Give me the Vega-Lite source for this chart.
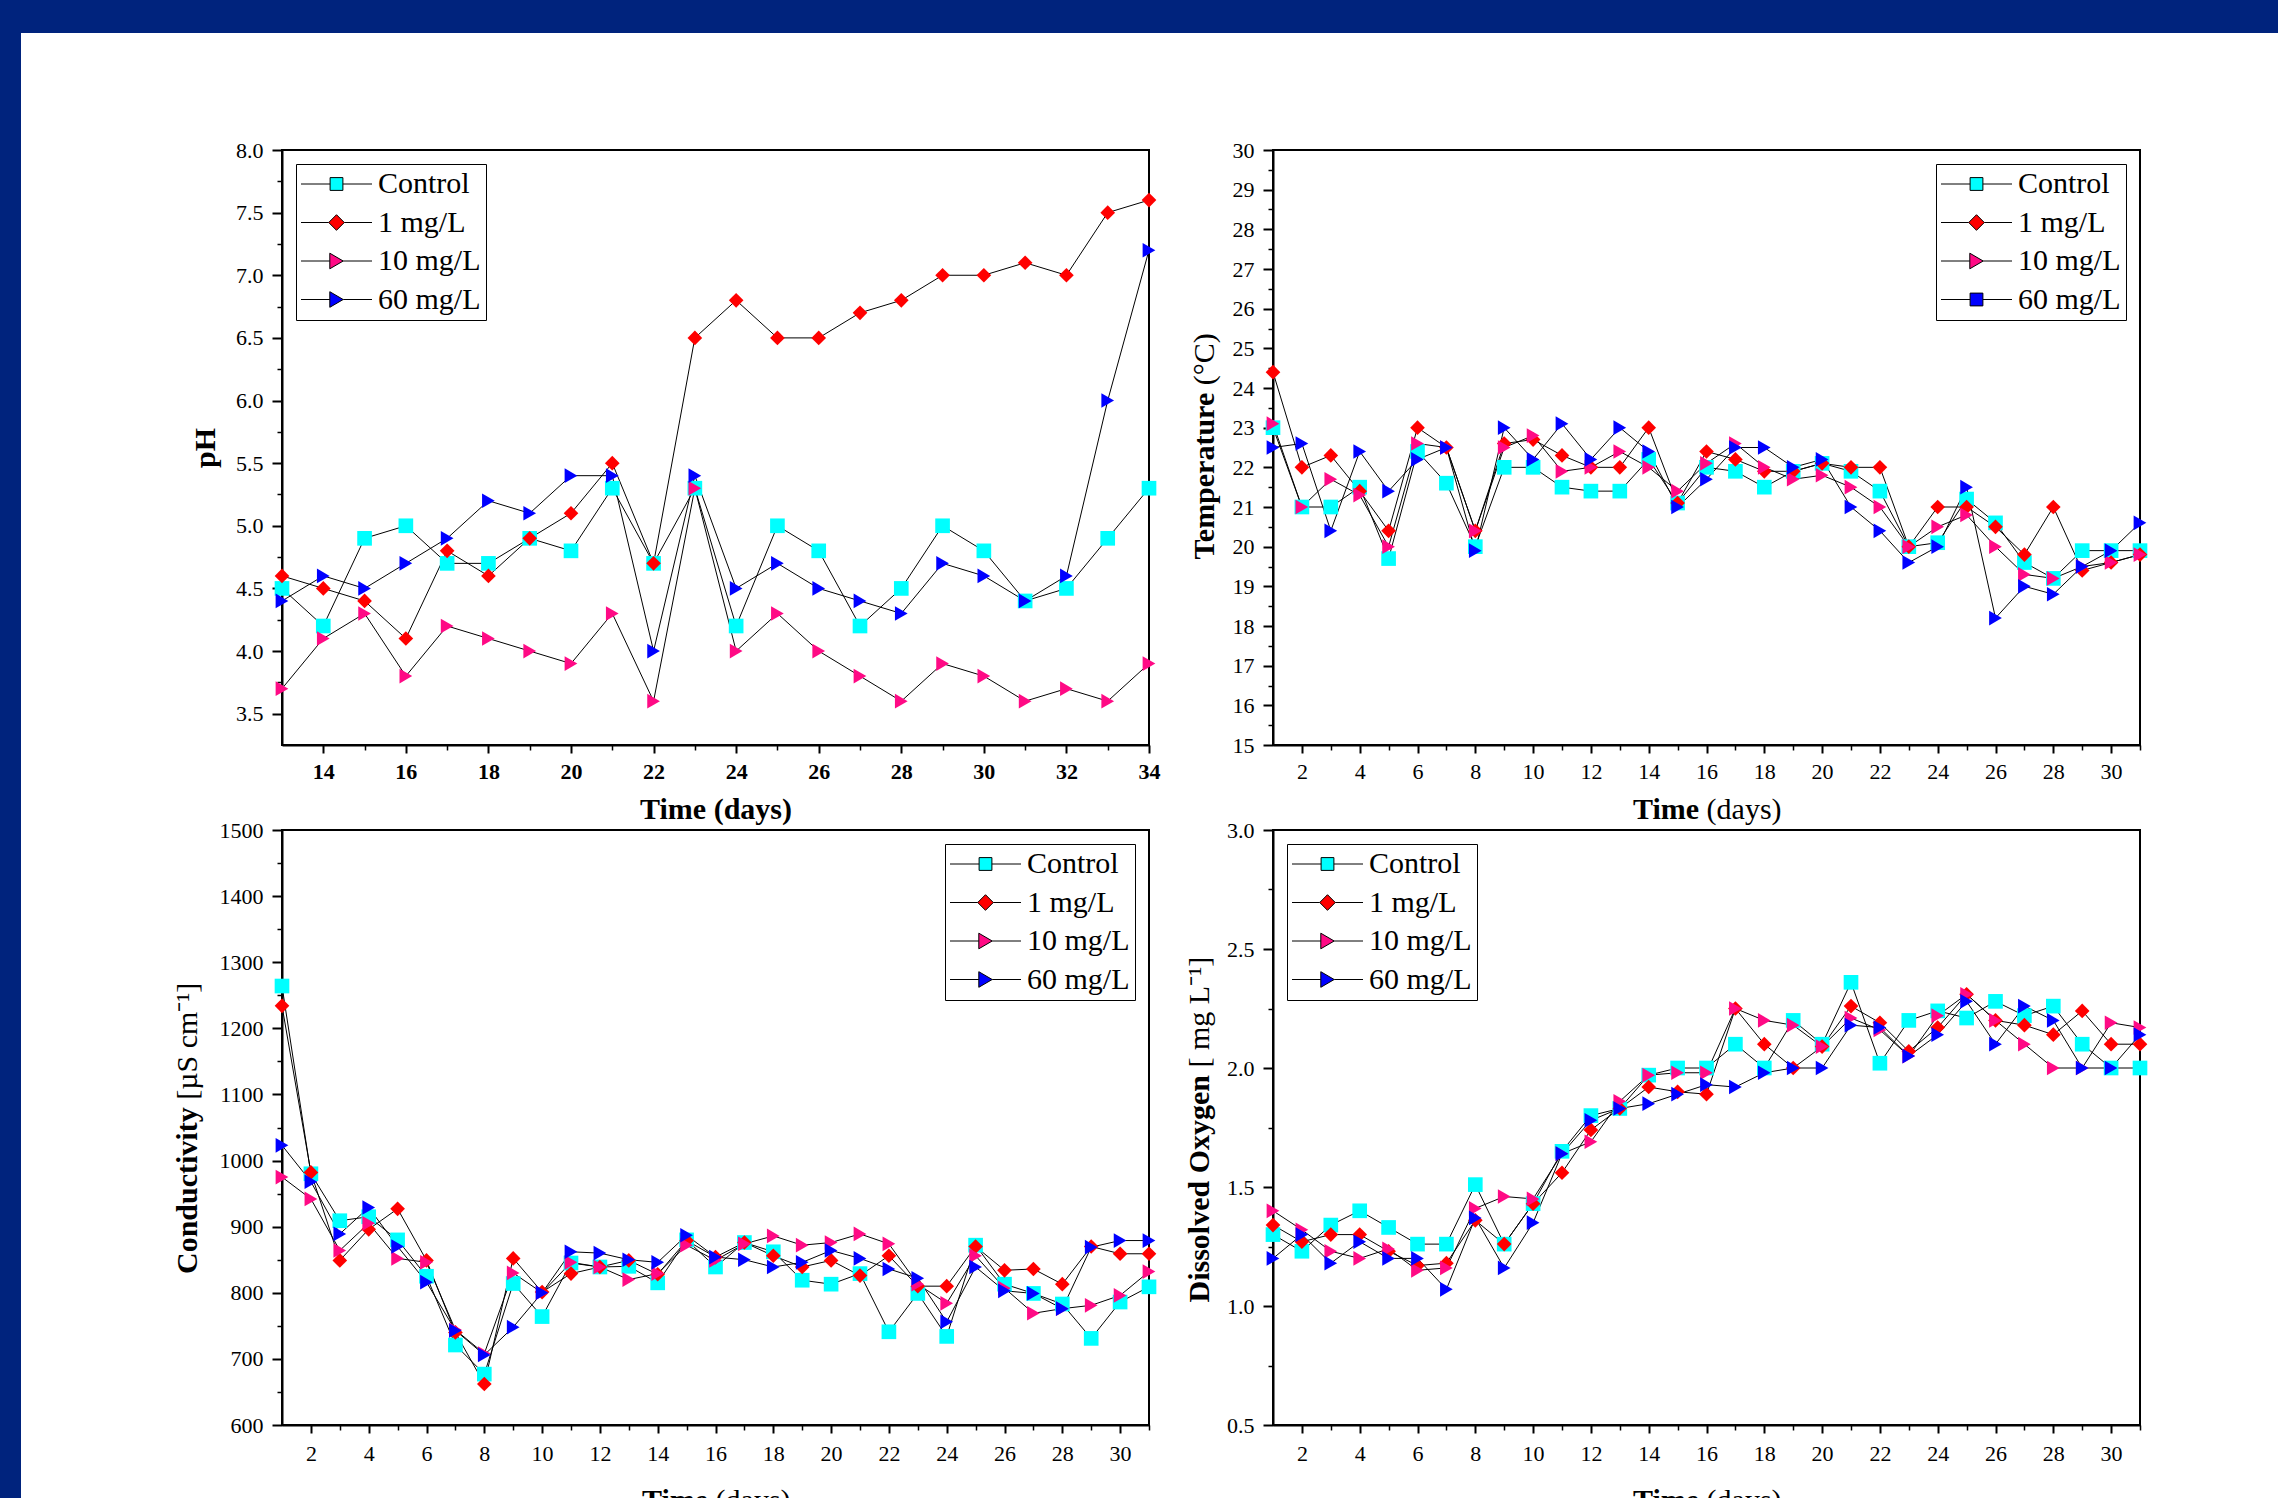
{
"$schema": "https://vega.github.io/schema/vega-lite/v6.json",
"background": "white",
"padding": 0,
"spacing": 0,
"config": {
  "axis": {"labelFont": "Liberation Serif", "labelFontSize": 22, "labelColor": "black", "tickColor": "black", "domainColor": "black", "domainWidth": 2, "tickWidth": 2, "titleFont": "Liberation Serif", "titleFontSize": 30, "titleColor": "black", "grid": false, "labelFlush": false, "labelOverlap": false, "labelBound": false},
  "legend": {"labelFont": "Liberation Serif", "labelFontSize": 30, "labelColor": "black", "title": null, "offset": 14, "padding": 5, "strokeColor": "black", "fillColor": "white", "symbolSize": 400, "symbolOffset": 20.5, "labelOffset": 26.5, "rowPadding": 8.5, "symbolStrokeColor": "black", "symbolStrokeWidth": 1, "symbolOpacity": 1}
},
"datasets": {
"ph": [
{"day":13,"series":"Control","value":4.5},{"day":14,"series":"Control","value":4.2},{"day":15,"series":"Control","value":4.9},{"day":16,"series":"Control","value":5.0},{"day":17,"series":"Control","value":4.7},{"day":18,"series":"Control","value":4.7},{"day":19,"series":"Control","value":4.9},{"day":20,"series":"Control","value":4.8},{"day":21,"series":"Control","value":5.3},{"day":22,"series":"Control","value":4.7},{"day":23,"series":"Control","value":5.3},{"day":24,"series":"Control","value":4.2},{"day":25,"series":"Control","value":5.0},{"day":26,"series":"Control","value":4.8},{"day":27,"series":"Control","value":4.2},{"day":28,"series":"Control","value":4.5},{"day":29,"series":"Control","value":5.0},{"day":30,"series":"Control","value":4.8},{"day":31,"series":"Control","value":4.4},{"day":32,"series":"Control","value":4.5},{"day":33,"series":"Control","value":4.9},{"day":34,"series":"Control","value":5.3},
{"day":13,"series":"1 mg/L","value":4.6},{"day":14,"series":"1 mg/L","value":4.5},{"day":15,"series":"1 mg/L","value":4.4},{"day":16,"series":"1 mg/L","value":4.1},{"day":17,"series":"1 mg/L","value":4.8},{"day":18,"series":"1 mg/L","value":4.6},{"day":19,"series":"1 mg/L","value":4.9},{"day":20,"series":"1 mg/L","value":5.1},{"day":21,"series":"1 mg/L","value":5.5},{"day":22,"series":"1 mg/L","value":4.7},{"day":23,"series":"1 mg/L","value":6.5},{"day":24,"series":"1 mg/L","value":6.8},{"day":25,"series":"1 mg/L","value":6.5},{"day":26,"series":"1 mg/L","value":6.5},{"day":27,"series":"1 mg/L","value":6.7},{"day":28,"series":"1 mg/L","value":6.8},{"day":29,"series":"1 mg/L","value":7.0},{"day":30,"series":"1 mg/L","value":7.0},{"day":31,"series":"1 mg/L","value":7.1},{"day":32,"series":"1 mg/L","value":7.0},{"day":33,"series":"1 mg/L","value":7.5},{"day":34,"series":"1 mg/L","value":7.6},
{"day":13,"series":"10 mg/L","value":3.7},{"day":14,"series":"10 mg/L","value":4.1},{"day":15,"series":"10 mg/L","value":4.3},{"day":16,"series":"10 mg/L","value":3.8},{"day":17,"series":"10 mg/L","value":4.2},{"day":18,"series":"10 mg/L","value":4.1},{"day":19,"series":"10 mg/L","value":4.0},{"day":20,"series":"10 mg/L","value":3.9},{"day":21,"series":"10 mg/L","value":4.3},{"day":22,"series":"10 mg/L","value":3.6},{"day":23,"series":"10 mg/L","value":5.3},{"day":24,"series":"10 mg/L","value":4.0},{"day":25,"series":"10 mg/L","value":4.3},{"day":26,"series":"10 mg/L","value":4.0},{"day":27,"series":"10 mg/L","value":3.8},{"day":28,"series":"10 mg/L","value":3.6},{"day":29,"series":"10 mg/L","value":3.9},{"day":30,"series":"10 mg/L","value":3.8},{"day":31,"series":"10 mg/L","value":3.6},{"day":32,"series":"10 mg/L","value":3.7},{"day":33,"series":"10 mg/L","value":3.6},{"day":34,"series":"10 mg/L","value":3.9},
{"day":13,"series":"60 mg/L","value":4.4},{"day":14,"series":"60 mg/L","value":4.6},{"day":15,"series":"60 mg/L","value":4.5},{"day":16,"series":"60 mg/L","value":4.7},{"day":17,"series":"60 mg/L","value":4.9},{"day":18,"series":"60 mg/L","value":5.2},{"day":19,"series":"60 mg/L","value":5.1},{"day":20,"series":"60 mg/L","value":5.4},{"day":21,"series":"60 mg/L","value":5.4},{"day":22,"series":"60 mg/L","value":4.0},{"day":23,"series":"60 mg/L","value":5.4},{"day":24,"series":"60 mg/L","value":4.5},{"day":25,"series":"60 mg/L","value":4.7},{"day":26,"series":"60 mg/L","value":4.5},{"day":27,"series":"60 mg/L","value":4.4},{"day":28,"series":"60 mg/L","value":4.3},{"day":29,"series":"60 mg/L","value":4.7},{"day":30,"series":"60 mg/L","value":4.6},{"day":31,"series":"60 mg/L","value":4.4},{"day":32,"series":"60 mg/L","value":4.6},{"day":33,"series":"60 mg/L","value":6.0},{"day":34,"series":"60 mg/L","value":7.2}
],
"temp": [
{"day":1,"series":"Control","value":23.0},{"day":2,"series":"Control","value":21.0},{"day":3,"series":"Control","value":21.0},{"day":4,"series":"Control","value":21.5},{"day":5,"series":"Control","value":19.7},{"day":6,"series":"Control","value":22.4},{"day":7,"series":"Control","value":21.6},{"day":8,"series":"Control","value":20.0},{"day":9,"series":"Control","value":22.0},{"day":10,"series":"Control","value":22.0},{"day":11,"series":"Control","value":21.5},{"day":12,"series":"Control","value":21.4},{"day":13,"series":"Control","value":21.4},{"day":14,"series":"Control","value":22.2},{"day":15,"series":"Control","value":21.1},{"day":16,"series":"Control","value":22.0},{"day":17,"series":"Control","value":21.9},{"day":18,"series":"Control","value":21.5},{"day":19,"series":"Control","value":21.9},{"day":20,"series":"Control","value":22.1},{"day":21,"series":"Control","value":21.9},{"day":22,"series":"Control","value":21.4},{"day":23,"series":"Control","value":20.0},{"day":24,"series":"Control","value":20.1},{"day":25,"series":"Control","value":21.2},{"day":26,"series":"Control","value":20.6},{"day":27,"series":"Control","value":19.6},{"day":28,"series":"Control","value":19.2},{"day":29,"series":"Control","value":19.9},{"day":30,"series":"Control","value":19.9},{"day":31,"series":"Control","value":19.9},
{"day":1,"series":"1 mg/L","value":24.4},{"day":2,"series":"1 mg/L","value":22.0},{"day":3,"series":"1 mg/L","value":22.3},{"day":4,"series":"1 mg/L","value":21.4},{"day":5,"series":"1 mg/L","value":20.4},{"day":6,"series":"1 mg/L","value":23.0},{"day":7,"series":"1 mg/L","value":22.5},{"day":8,"series":"1 mg/L","value":20.4},{"day":9,"series":"1 mg/L","value":22.6},{"day":10,"series":"1 mg/L","value":22.7},{"day":11,"series":"1 mg/L","value":22.3},{"day":12,"series":"1 mg/L","value":22.0},{"day":13,"series":"1 mg/L","value":22.0},{"day":14,"series":"1 mg/L","value":23.0},{"day":15,"series":"1 mg/L","value":21.1},{"day":16,"series":"1 mg/L","value":22.4},{"day":17,"series":"1 mg/L","value":22.2},{"day":18,"series":"1 mg/L","value":21.9},{"day":19,"series":"1 mg/L","value":21.9},{"day":20,"series":"1 mg/L","value":22.1},{"day":21,"series":"1 mg/L","value":22.0},{"day":22,"series":"1 mg/L","value":22.0},{"day":23,"series":"1 mg/L","value":20.0},{"day":24,"series":"1 mg/L","value":21.0},{"day":25,"series":"1 mg/L","value":21.0},{"day":26,"series":"1 mg/L","value":20.5},{"day":27,"series":"1 mg/L","value":19.8},{"day":28,"series":"1 mg/L","value":21.0},{"day":29,"series":"1 mg/L","value":19.4},{"day":30,"series":"1 mg/L","value":19.6},{"day":31,"series":"1 mg/L","value":19.8},
{"day":1,"series":"10 mg/L","value":23.1},{"day":2,"series":"10 mg/L","value":21.0},{"day":3,"series":"10 mg/L","value":21.7},{"day":4,"series":"10 mg/L","value":21.3},{"day":5,"series":"10 mg/L","value":20.0},{"day":6,"series":"10 mg/L","value":22.6},{"day":7,"series":"10 mg/L","value":22.5},{"day":8,"series":"10 mg/L","value":20.4},{"day":9,"series":"10 mg/L","value":22.5},{"day":10,"series":"10 mg/L","value":22.8},{"day":11,"series":"10 mg/L","value":21.9},{"day":12,"series":"10 mg/L","value":22.0},{"day":13,"series":"10 mg/L","value":22.4},{"day":14,"series":"10 mg/L","value":22.0},{"day":15,"series":"10 mg/L","value":21.4},{"day":16,"series":"10 mg/L","value":22.1},{"day":17,"series":"10 mg/L","value":22.6},{"day":18,"series":"10 mg/L","value":22.0},{"day":19,"series":"10 mg/L","value":21.7},{"day":20,"series":"10 mg/L","value":21.8},{"day":21,"series":"10 mg/L","value":21.5},{"day":22,"series":"10 mg/L","value":21.0},{"day":23,"series":"10 mg/L","value":20.0},{"day":24,"series":"10 mg/L","value":20.5},{"day":25,"series":"10 mg/L","value":20.8},{"day":26,"series":"10 mg/L","value":20.0},{"day":27,"series":"10 mg/L","value":19.3},{"day":28,"series":"10 mg/L","value":19.2},{"day":29,"series":"10 mg/L","value":19.5},{"day":30,"series":"10 mg/L","value":19.6},{"day":31,"series":"10 mg/L","value":19.8},
{"day":1,"series":"60 mg/L","value":22.5},{"day":2,"series":"60 mg/L","value":22.6},{"day":3,"series":"60 mg/L","value":20.4},{"day":4,"series":"60 mg/L","value":22.4},{"day":5,"series":"60 mg/L","value":21.4},{"day":6,"series":"60 mg/L","value":22.2},{"day":7,"series":"60 mg/L","value":22.5},{"day":8,"series":"60 mg/L","value":19.9},{"day":9,"series":"60 mg/L","value":23.0},{"day":10,"series":"60 mg/L","value":22.2},{"day":11,"series":"60 mg/L","value":23.1},{"day":12,"series":"60 mg/L","value":22.2},{"day":13,"series":"60 mg/L","value":23.0},{"day":14,"series":"60 mg/L","value":22.4},{"day":15,"series":"60 mg/L","value":21.0},{"day":16,"series":"60 mg/L","value":21.7},{"day":17,"series":"60 mg/L","value":22.5},{"day":18,"series":"60 mg/L","value":22.5},{"day":19,"series":"60 mg/L","value":22.0},{"day":20,"series":"60 mg/L","value":22.2},{"day":21,"series":"60 mg/L","value":21.0},{"day":22,"series":"60 mg/L","value":20.4},{"day":23,"series":"60 mg/L","value":19.6},{"day":24,"series":"60 mg/L","value":20.0},{"day":25,"series":"60 mg/L","value":21.5},{"day":26,"series":"60 mg/L","value":18.2},{"day":27,"series":"60 mg/L","value":19.0},{"day":28,"series":"60 mg/L","value":18.8},{"day":29,"series":"60 mg/L","value":19.5},{"day":30,"series":"60 mg/L","value":19.9},{"day":31,"series":"60 mg/L","value":20.6}
],
"cond": [
{"day":1,"series":"Control","value":1264},{"day":2,"series":"Control","value":980},{"day":3,"series":"Control","value":909},{"day":4,"series":"Control","value":915},{"day":5,"series":"Control","value":880},{"day":6,"series":"Control","value":825},{"day":7,"series":"Control","value":721},{"day":8,"series":"Control","value":677},{"day":9,"series":"Control","value":814},{"day":10,"series":"Control","value":764},{"day":11,"series":"Control","value":845},{"day":12,"series":"Control","value":839},{"day":13,"series":"Control","value":840},{"day":14,"series":"Control","value":815},{"day":15,"series":"Control","value":880},{"day":16,"series":"Control","value":839},{"day":17,"series":"Control","value":876},{"day":18,"series":"Control","value":862},{"day":19,"series":"Control","value":819},{"day":20,"series":"Control","value":813},{"day":21,"series":"Control","value":829},{"day":22,"series":"Control","value":741},{"day":23,"series":"Control","value":799},{"day":24,"series":"Control","value":734},{"day":25,"series":"Control","value":872},{"day":26,"series":"Control","value":813},{"day":27,"series":"Control","value":799},{"day":28,"series":"Control","value":783},{"day":29,"series":"Control","value":731},{"day":30,"series":"Control","value":786},{"day":31,"series":"Control","value":809},
{"day":1,"series":"1 mg/L","value":1234},{"day":2,"series":"1 mg/L","value":982},{"day":3,"series":"1 mg/L","value":849},{"day":4,"series":"1 mg/L","value":896},{"day":5,"series":"1 mg/L","value":927},{"day":6,"series":"1 mg/L","value":849},{"day":7,"series":"1 mg/L","value":740},{"day":8,"series":"1 mg/L","value":662},{"day":9,"series":"1 mg/L","value":852},{"day":10,"series":"1 mg/L","value":801},{"day":11,"series":"1 mg/L","value":829},{"day":12,"series":"1 mg/L","value":839},{"day":13,"series":"1 mg/L","value":849},{"day":14,"series":"1 mg/L","value":828},{"day":15,"series":"1 mg/L","value":879},{"day":16,"series":"1 mg/L","value":854},{"day":17,"series":"1 mg/L","value":876},{"day":18,"series":"1 mg/L","value":856},{"day":19,"series":"1 mg/L","value":839},{"day":20,"series":"1 mg/L","value":849},{"day":21,"series":"1 mg/L","value":826},{"day":22,"series":"1 mg/L","value":856},{"day":23,"series":"1 mg/L","value":810},{"day":24,"series":"1 mg/L","value":810},{"day":25,"series":"1 mg/L","value":870},{"day":26,"series":"1 mg/L","value":834},{"day":27,"series":"1 mg/L","value":836},{"day":28,"series":"1 mg/L","value":813},{"day":29,"series":"1 mg/L","value":870},{"day":30,"series":"1 mg/L","value":859},{"day":31,"series":"1 mg/L","value":859},
{"day":1,"series":"10 mg/L","value":975},{"day":2,"series":"10 mg/L","value":942},{"day":3,"series":"10 mg/L","value":864},{"day":4,"series":"10 mg/L","value":905},{"day":5,"series":"10 mg/L","value":852},{"day":6,"series":"10 mg/L","value":846},{"day":7,"series":"10 mg/L","value":744},{"day":8,"series":"10 mg/L","value":708},{"day":9,"series":"10 mg/L","value":830},{"day":10,"series":"10 mg/L","value":800},{"day":11,"series":"10 mg/L","value":846},{"day":12,"series":"10 mg/L","value":839},{"day":13,"series":"10 mg/L","value":820},{"day":14,"series":"10 mg/L","value":829},{"day":15,"series":"10 mg/L","value":872},{"day":16,"series":"10 mg/L","value":849},{"day":17,"series":"10 mg/L","value":874},{"day":18,"series":"10 mg/L","value":886},{"day":19,"series":"10 mg/L","value":872},{"day":20,"series":"10 mg/L","value":876},{"day":21,"series":"10 mg/L","value":889},{"day":22,"series":"10 mg/L","value":874},{"day":23,"series":"10 mg/L","value":813},{"day":24,"series":"10 mg/L","value":784},{"day":25,"series":"10 mg/L","value":856},{"day":26,"series":"10 mg/L","value":807},{"day":27,"series":"10 mg/L","value":769},{"day":28,"series":"10 mg/L","value":776},{"day":29,"series":"10 mg/L","value":781},{"day":30,"series":"10 mg/L","value":796},{"day":31,"series":"10 mg/L","value":832},
{"day":1,"series":"60 mg/L","value":1023},{"day":2,"series":"60 mg/L","value":968},{"day":3,"series":"60 mg/L","value":889},{"day":4,"series":"60 mg/L","value":929},{"day":5,"series":"60 mg/L","value":870},{"day":6,"series":"60 mg/L","value":816},{"day":7,"series":"60 mg/L","value":743},{"day":8,"series":"60 mg/L","value":706},{"day":9,"series":"60 mg/L","value":748},{"day":10,"series":"60 mg/L","value":800},{"day":11,"series":"60 mg/L","value":862},{"day":12,"series":"60 mg/L","value":860},{"day":13,"series":"60 mg/L","value":850},{"day":14,"series":"60 mg/L","value":846},{"day":15,"series":"60 mg/L","value":887},{"day":16,"series":"60 mg/L","value":854},{"day":17,"series":"60 mg/L","value":850},{"day":18,"series":"60 mg/L","value":839},{"day":19,"series":"60 mg/L","value":846},{"day":20,"series":"60 mg/L","value":864},{"day":21,"series":"60 mg/L","value":852},{"day":22,"series":"60 mg/L","value":836},{"day":23,"series":"60 mg/L","value":822},{"day":24,"series":"60 mg/L","value":756},{"day":25,"series":"60 mg/L","value":839},{"day":26,"series":"60 mg/L","value":803},{"day":27,"series":"60 mg/L","value":799},{"day":28,"series":"60 mg/L","value":776},{"day":29,"series":"60 mg/L","value":869},{"day":30,"series":"60 mg/L","value":879},{"day":31,"series":"60 mg/L","value":879}
],
"do": [
{"day":1,"series":"Control","value":1.30},{"day":2,"series":"Control","value":1.23},{"day":3,"series":"Control","value":1.34},{"day":4,"series":"Control","value":1.40},{"day":5,"series":"Control","value":1.33},{"day":6,"series":"Control","value":1.26},{"day":7,"series":"Control","value":1.26},{"day":8,"series":"Control","value":1.51},{"day":9,"series":"Control","value":1.26},{"day":10,"series":"Control","value":1.43},{"day":11,"series":"Control","value":1.65},{"day":12,"series":"Control","value":1.80},{"day":13,"series":"Control","value":1.83},{"day":14,"series":"Control","value":1.97},{"day":15,"series":"Control","value":2.00},{"day":16,"series":"Control","value":2.00},{"day":17,"series":"Control","value":2.10},{"day":18,"series":"Control","value":2.00},{"day":19,"series":"Control","value":2.20},{"day":20,"series":"Control","value":2.10},{"day":21,"series":"Control","value":2.36},{"day":22,"series":"Control","value":2.02},{"day":23,"series":"Control","value":2.20},{"day":24,"series":"Control","value":2.24},{"day":25,"series":"Control","value":2.21},{"day":26,"series":"Control","value":2.28},{"day":27,"series":"Control","value":2.22},{"day":28,"series":"Control","value":2.26},{"day":29,"series":"Control","value":2.10},{"day":30,"series":"Control","value":2.00},{"day":31,"series":"Control","value":2.00},
{"day":1,"series":"1 mg/L","value":1.34},{"day":2,"series":"1 mg/L","value":1.27},{"day":3,"series":"1 mg/L","value":1.30},{"day":4,"series":"1 mg/L","value":1.30},{"day":5,"series":"1 mg/L","value":1.23},{"day":6,"series":"1 mg/L","value":1.17},{"day":7,"series":"1 mg/L","value":1.18},{"day":8,"series":"1 mg/L","value":1.36},{"day":9,"series":"1 mg/L","value":1.26},{"day":10,"series":"1 mg/L","value":1.43},{"day":11,"series":"1 mg/L","value":1.56},{"day":12,"series":"1 mg/L","value":1.74},{"day":13,"series":"1 mg/L","value":1.83},{"day":14,"series":"1 mg/L","value":1.92},{"day":15,"series":"1 mg/L","value":1.90},{"day":16,"series":"1 mg/L","value":1.89},{"day":17,"series":"1 mg/L","value":2.25},{"day":18,"series":"1 mg/L","value":2.10},{"day":19,"series":"1 mg/L","value":2.00},{"day":20,"series":"1 mg/L","value":2.09},{"day":21,"series":"1 mg/L","value":2.26},{"day":22,"series":"1 mg/L","value":2.19},{"day":23,"series":"1 mg/L","value":2.07},{"day":24,"series":"1 mg/L","value":2.17},{"day":25,"series":"1 mg/L","value":2.31},{"day":26,"series":"1 mg/L","value":2.20},{"day":27,"series":"1 mg/L","value":2.18},{"day":28,"series":"1 mg/L","value":2.14},{"day":29,"series":"1 mg/L","value":2.24},{"day":30,"series":"1 mg/L","value":2.10},{"day":31,"series":"1 mg/L","value":2.10},
{"day":1,"series":"10 mg/L","value":1.40},{"day":2,"series":"10 mg/L","value":1.32},{"day":3,"series":"10 mg/L","value":1.23},{"day":4,"series":"10 mg/L","value":1.20},{"day":5,"series":"10 mg/L","value":1.24},{"day":6,"series":"10 mg/L","value":1.15},{"day":7,"series":"10 mg/L","value":1.16},{"day":8,"series":"10 mg/L","value":1.41},{"day":9,"series":"10 mg/L","value":1.46},{"day":10,"series":"10 mg/L","value":1.45},{"day":11,"series":"10 mg/L","value":1.64},{"day":12,"series":"10 mg/L","value":1.69},{"day":13,"series":"10 mg/L","value":1.86},{"day":14,"series":"10 mg/L","value":1.97},{"day":15,"series":"10 mg/L","value":1.98},{"day":16,"series":"10 mg/L","value":1.98},{"day":17,"series":"10 mg/L","value":2.25},{"day":18,"series":"10 mg/L","value":2.20},{"day":19,"series":"10 mg/L","value":2.18},{"day":20,"series":"10 mg/L","value":2.09},{"day":21,"series":"10 mg/L","value":2.21},{"day":22,"series":"10 mg/L","value":2.16},{"day":23,"series":"10 mg/L","value":2.05},{"day":24,"series":"10 mg/L","value":2.22},{"day":25,"series":"10 mg/L","value":2.31},{"day":26,"series":"10 mg/L","value":2.20},{"day":27,"series":"10 mg/L","value":2.10},{"day":28,"series":"10 mg/L","value":2.00},{"day":29,"series":"10 mg/L","value":2.00},{"day":30,"series":"10 mg/L","value":2.19},{"day":31,"series":"10 mg/L","value":2.17},
{"day":1,"series":"60 mg/L","value":1.20},{"day":2,"series":"60 mg/L","value":1.30},{"day":3,"series":"60 mg/L","value":1.18},{"day":4,"series":"60 mg/L","value":1.27},{"day":5,"series":"60 mg/L","value":1.20},{"day":6,"series":"60 mg/L","value":1.20},{"day":7,"series":"60 mg/L","value":1.07},{"day":8,"series":"60 mg/L","value":1.37},{"day":9,"series":"60 mg/L","value":1.16},{"day":10,"series":"60 mg/L","value":1.35},{"day":11,"series":"60 mg/L","value":1.64},{"day":12,"series":"60 mg/L","value":1.78},{"day":13,"series":"60 mg/L","value":1.83},{"day":14,"series":"60 mg/L","value":1.85},{"day":15,"series":"60 mg/L","value":1.89},{"day":16,"series":"60 mg/L","value":1.93},{"day":17,"series":"60 mg/L","value":1.92},{"day":18,"series":"60 mg/L","value":1.98},{"day":19,"series":"60 mg/L","value":2.00},{"day":20,"series":"60 mg/L","value":2.00},{"day":21,"series":"60 mg/L","value":2.18},{"day":22,"series":"60 mg/L","value":2.17},{"day":23,"series":"60 mg/L","value":2.05},{"day":24,"series":"60 mg/L","value":2.14},{"day":25,"series":"60 mg/L","value":2.28},{"day":26,"series":"60 mg/L","value":2.10},{"day":27,"series":"60 mg/L","value":2.26},{"day":28,"series":"60 mg/L","value":2.20},{"day":29,"series":"60 mg/L","value":2.00},{"day":30,"series":"60 mg/L","value":2.00},{"day":31,"series":"60 mg/L","value":2.14}
]
},
"vconcat": [
 {"width": 2278, "height": 33, "data": {"values": []}, "mark": {"type": "point", "opacity": 0}, "encoding": {}, "view": {"fill": "#00237D", "stroke": null}},
 {"spacing": 150, "hconcat": [
  {"width": 21, "height": 1465, "data": {"values": []}, "mark": {"type": "point", "opacity": 0}, "encoding": {}, "view": {"fill": "#00237D", "stroke": null}},
  {"spacing": 104, "vconcat": [
   {"width": 1, "height": 1, "data": {"values": []}, "mark": {"type": "point", "opacity": 0}, "encoding": {}, "view": {"stroke": null}},
   {"columns": 2, "bounds": "flush", "spacing": {"row": 85, "column": 124}, "concat": [
    {"width": 867, "height": 595, "data": {"name": "ph"}, "view": {"stroke": "black", "strokeWidth": 2},
     "resolve": {"axis": {"x": "independent", "y": "independent"}},
     "layer": [
      {"mark": {"type": "line", "color": "black", "strokeWidth": 1},
       "encoding": {
        "x": {"field": "day", "type": "quantitative", "scale": {"domain": [13, 34], "nice": false, "zero": false},
              "axis": {"orient": "bottom", "values": [14,16,18,20,22,24,26,28,30,32,34], "tickSize": 8, "labelPadding": 8, "labelFontWeight": "bold", "title": "Time (days)", "titleFontWeight": "bold", "titleX": 433.5, "titleY": 49, "titleAlign": "center", "titleBaseline": "top"}},
        "y": {"field": "value", "type": "quantitative", "scale": {"domain": [3.25, 8], "nice": false, "zero": false},
              "axis": {"orient": "left", "values": [3.5,4,4.5,5,5.5,6,6.5,7,7.5,8], "format": ".1f", "tickSize": 10, "labelPadding": 9, "title": "pH", "titleFontWeight": "bold", "titleAngle": 270, "titleX": -77, "titleY": 297.5, "titleAlign": "center", "titleBaseline": "middle"}},
        "detail": {"field": "series"}}},
      {"mark": {"type": "point", "filled": true, "opacity": 1, "size": 215},
       "encoding": {
        "x": {"field": "day", "type": "quantitative", "scale": {"domain": [13, 34], "nice": false, "zero": false},
              "axis": {"orient": "bottom", "values": [15,17,19,21,23,25,27,29,31,33], "labels": false, "domain": false, "tickSize": 5, "tickWidth": 1.5, "title": null}},
        "y": {"field": "value", "type": "quantitative", "scale": {"domain": [3.25, 8], "nice": false, "zero": false},
              "axis": {"orient": "left", "values": [3.75,4.25,4.75,5.25,5.75,6.25,6.75,7.25,7.75], "labels": false, "domain": false, "tickSize": 5, "tickWidth": 1.5, "title": null}},
        "color": {"field": "series", "type": "nominal",
                  "scale": {"domain": ["Control", "1 mg/L", "10 mg/L", "60 mg/L"], "range": ["#00FFFF", "#FF0000", "#FF0A85", "#0000FF"]},
                  "legend": {"orient": "top-left", "symbolType": {"expr": "datum.value === 'Control' ? 'M-3.55,0H-0.64M0.64,0H3.55M-0.64,-0.64H0.64V0.64H-0.64Z' : datum.value === '1 mg/L' ? 'M-3.55,0H-0.78M0.78,0H3.55M-0.78,0L0,-0.78L0.78,0L0,0.78Z' : 'M-3.55,0H-0.67M0.67,0H3.55M-0.67,-0.78L0.67,0L-0.67,0.78Z'"}}},
        "shape": {"field": "series", "type": "nominal", "scale": {"domain": ["Control", "1 mg/L", "10 mg/L", "60 mg/L"], "range": ["square", "diamond", "triangle-right", "triangle-right"]}, "legend": null}}}
     ]},
    {"width": 867, "height": 595, "data": {"name": "temp"}, "view": {"stroke": "black", "strokeWidth": 2},
     "resolve": {"axis": {"x": "independent", "y": "independent"}},
     "layer": [
      {"mark": {"type": "line", "color": "black", "strokeWidth": 1},
       "encoding": {
        "x": {"field": "day", "type": "quantitative", "scale": {"domain": [1, 31], "nice": false, "zero": false},
              "axis": {"orient": "bottom", "values": [2,4,6,8,10,12,14,16,18,20,22,24,26,28,30], "tickSize": 8, "labelPadding": 8, "title": "Time", "titleFontWeight": "bold", "titleX": 425.6, "titleY": 49, "titleAlign": "right", "titleBaseline": "top"}},
        "y": {"field": "value", "type": "quantitative", "scale": {"domain": [15, 30], "nice": false, "zero": false},
              "axis": {"orient": "left", "values": [15,16,17,18,19,20,21,22,23,24,25,26,27,28,29,30], "format": "d", "tickSize": 10, "labelPadding": 9, "title": "Temperature", "titleFontWeight": "bold", "titleAngle": 270, "titleX": -69, "titleY": 242.3, "titleAlign": "right", "titleBaseline": "middle"}},
        "detail": {"field": "series"}}},
      {"mark": {"type": "point", "filled": true, "opacity": 1, "size": 215},
       "encoding": {
        "x": {"field": "day", "type": "quantitative", "scale": {"domain": [1, 31], "nice": false, "zero": false},
              "axis": {"orient": "bottom", "values": [3,5,7,9,11,13,15,17,19,21,23,25,27,29,31], "labels": false, "domain": false, "tickSize": 5, "tickWidth": 1.5, "title": "(days)", "titleFontWeight": "normal", "titleX": 433.1, "titleY": 49, "titleAlign": "left", "titleBaseline": "top"}},
        "y": {"field": "value", "type": "quantitative", "scale": {"domain": [15, 30], "nice": false, "zero": false},
              "axis": {"orient": "left", "values": [15.5,16.5,17.5,18.5,19.5,20.5,21.5,22.5,23.5,24.5,25.5,26.5,27.5,28.5,29.5], "labels": false, "domain": false, "tickSize": 5, "tickWidth": 1.5, "title": "(°C)", "titleFontWeight": "normal", "titleAngle": 270, "titleX": -69, "titleY": 234.8, "titleAlign": "left", "titleBaseline": "middle"}},
        "color": {"field": "series", "type": "nominal",
                  "scale": {"domain": ["Control", "1 mg/L", "10 mg/L", "60 mg/L"], "range": ["#00FFFF", "#FF0000", "#FF0A85", "#0000FF"]},
                  "legend": {"orient": "top-right", "symbolType": {"expr": "datum.value === 'Control' ? 'M-3.55,0H-0.64M0.64,0H3.55M-0.64,-0.64H0.64V0.64H-0.64Z' : datum.value === '1 mg/L' ? 'M-3.55,0H-0.78M0.78,0H3.55M-0.78,0L0,-0.78L0.78,0L0,0.78Z' : datum.value === '10 mg/L' ? 'M-3.55,0H-0.67M0.67,0H3.55M-0.67,-0.78L0.67,0L-0.67,0.78Z' : 'M-3.55,0H-0.64M0.64,0H3.55M-0.64,-0.64H0.64V0.64H-0.64Z'"}}},
        "shape": {"field": "series", "type": "nominal", "scale": {"domain": ["Control", "1 mg/L", "10 mg/L", "60 mg/L"], "range": ["square", "diamond", "triangle-right", "square"]}, "legend": null}}}
     ]},
    {"width": 867, "height": 595, "data": {"name": "cond"}, "view": {"stroke": "black", "strokeWidth": 2},
     "resolve": {"axis": {"x": "independent", "y": "independent"}},
     "layer": [
      {"mark": {"type": "line", "color": "black", "strokeWidth": 1},
       "encoding": {
        "x": {"field": "day", "type": "quantitative", "scale": {"domain": [1, 31], "nice": false, "zero": false},
              "axis": {"orient": "bottom", "values": [2,4,6,8,10,12,14,16,18,20,22,24,26,28,30], "tickSize": 8, "labelPadding": 10, "title": "Time", "titleFontWeight": "bold", "titleX": 425.6, "titleY": 60, "titleAlign": "right", "titleBaseline": "top"}},
        "y": {"field": "value", "type": "quantitative", "scale": {"domain": [600, 1500], "nice": false, "zero": false},
              "axis": {"orient": "left", "values": [600,700,800,900,1000,1100,1200,1300,1400,1500], "format": "d", "tickSize": 10, "labelPadding": 9, "title": "Conductivity", "titleFontWeight": "bold", "titleAngle": 270, "titleX": -95, "titleY": 276.8, "titleAlign": "right", "titleBaseline": "middle"}},
        "detail": {"field": "series"}}},
      {"mark": {"type": "point", "filled": true, "opacity": 1, "size": 215},
       "encoding": {
        "x": {"field": "day", "type": "quantitative", "scale": {"domain": [1, 31], "nice": false, "zero": false},
              "axis": {"orient": "bottom", "values": [3,5,7,9,11,13,15,17,19,21,23,25,27,29,31], "labels": false, "domain": false, "tickSize": 5, "tickWidth": 1.5, "title": "(days)", "titleFontWeight": "normal", "titleX": 433.1, "titleY": 60, "titleAlign": "left", "titleBaseline": "top"}},
        "y": {"field": "value", "type": "quantitative", "scale": {"domain": [600, 1500], "nice": false, "zero": false},
              "axis": {"orient": "left", "values": [650,750,850,950,1050,1150,1250,1350,1450], "labels": false, "domain": false, "tickSize": 5, "tickWidth": 1.5, "title": "[µS cm⁻¹]", "titleFontWeight": "normal", "titleAngle": 270, "titleX": -95, "titleY": 269.3, "titleAlign": "left", "titleBaseline": "middle"}},
        "color": {"field": "series", "type": "nominal",
                  "scale": {"domain": ["Control", "1 mg/L", "10 mg/L", "60 mg/L"], "range": ["#00FFFF", "#FF0000", "#FF0A85", "#0000FF"]},
                  "legend": {"orient": "top-right", "symbolType": {"expr": "datum.value === 'Control' ? 'M-3.55,0H-0.64M0.64,0H3.55M-0.64,-0.64H0.64V0.64H-0.64Z' : datum.value === '1 mg/L' ? 'M-3.55,0H-0.78M0.78,0H3.55M-0.78,0L0,-0.78L0.78,0L0,0.78Z' : 'M-3.55,0H-0.67M0.67,0H3.55M-0.67,-0.78L0.67,0L-0.67,0.78Z'"}}},
        "shape": {"field": "series", "type": "nominal", "scale": {"domain": ["Control", "1 mg/L", "10 mg/L", "60 mg/L"], "range": ["square", "diamond", "triangle-right", "triangle-right"]}, "legend": null}}}
     ]},
    {"width": 867, "height": 595, "data": {"name": "do"}, "view": {"stroke": "black", "strokeWidth": 2},
     "resolve": {"axis": {"x": "independent", "y": "independent"}},
     "layer": [
      {"mark": {"type": "line", "color": "black", "strokeWidth": 1},
       "encoding": {
        "x": {"field": "day", "type": "quantitative", "scale": {"domain": [1, 31], "nice": false, "zero": false},
              "axis": {"orient": "bottom", "values": [2,4,6,8,10,12,14,16,18,20,22,24,26,28,30], "tickSize": 8, "labelPadding": 10, "title": "Time", "titleFontWeight": "bold", "titleX": 425.6, "titleY": 60, "titleAlign": "right", "titleBaseline": "top"}},
        "y": {"field": "value", "type": "quantitative", "scale": {"domain": [0.5, 3], "nice": false, "zero": false},
              "axis": {"orient": "left", "values": [0.5,1,1.5,2,2.5,3], "format": ".1f", "tickSize": 10, "labelPadding": 9, "title": "Dissolved Oxygen", "titleFontWeight": "bold", "titleAngle": 270, "titleX": -74, "titleY": 244.5, "titleAlign": "right", "titleBaseline": "middle"}},
        "detail": {"field": "series"}}},
      {"mark": {"type": "point", "filled": true, "opacity": 1, "size": 215},
       "encoding": {
        "x": {"field": "day", "type": "quantitative", "scale": {"domain": [1, 31], "nice": false, "zero": false},
              "axis": {"orient": "bottom", "values": [3,5,7,9,11,13,15,17,19,21,23,25,27,29,31], "labels": false, "domain": false, "tickSize": 5, "tickWidth": 1.5, "title": "(days)", "titleFontWeight": "normal", "titleX": 433.1, "titleY": 60, "titleAlign": "left", "titleBaseline": "top"}},
        "y": {"field": "value", "type": "quantitative", "scale": {"domain": [0.5, 3], "nice": false, "zero": false},
              "axis": {"orient": "left", "values": [0.75,1.25,1.75,2.25,2.75], "labels": false, "domain": false, "tickSize": 5, "tickWidth": 1.5, "title": "[ mg L⁻¹]", "titleFontWeight": "normal", "titleAngle": 270, "titleX": -74, "titleY": 237, "titleAlign": "left", "titleBaseline": "middle"}},
        "color": {"field": "series", "type": "nominal",
                  "scale": {"domain": ["Control", "1 mg/L", "10 mg/L", "60 mg/L"], "range": ["#00FFFF", "#FF0000", "#FF0A85", "#0000FF"]},
                  "legend": {"orient": "top-left", "symbolType": {"expr": "datum.value === 'Control' ? 'M-3.55,0H-0.64M0.64,0H3.55M-0.64,-0.64H0.64V0.64H-0.64Z' : datum.value === '1 mg/L' ? 'M-3.55,0H-0.78M0.78,0H3.55M-0.78,0L0,-0.78L0.78,0L0,0.78Z' : 'M-3.55,0H-0.67M0.67,0H3.55M-0.67,-0.78L0.67,0L-0.67,0.78Z'"}}},
        "shape": {"field": "series", "type": "nominal", "scale": {"domain": ["Control", "1 mg/L", "10 mg/L", "60 mg/L"], "range": ["square", "diamond", "triangle-right", "triangle-right"]}, "legend": null}}}
     ]}
   ]}
  ]}
 ]}
]
}
